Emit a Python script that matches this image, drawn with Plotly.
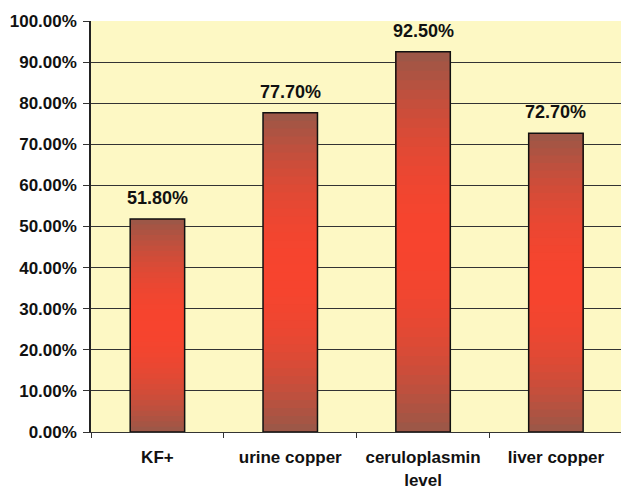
import plotly.graph_objects as go

categories = ["KF+", "urine copper", "ceruloplasmin<br>level", "liver copper"]
values = [51.8, 77.7, 92.5, 72.7]
labels = ["51.80%", "77.70%", "92.50%", "72.70%"]
tick_vals = [0, 10, 20, 30, 40, 50, 60, 70, 80, 90, 100]
tick_text = ["%.2f%%" % v for v in tick_vals]

N = 40
brown = (152, 88, 72)
red = (247, 68, 46)
FONT = "Liberation Sans, Arial"


def grad_color(t):
    d = abs(t - 0.5) * 2
    f = d ** 2.0
    c = [round(red[i] + (brown[i] - red[i]) * f) for i in range(3)]
    return "rgb(%d,%d,%d)" % tuple(c)


fig = go.Figure()
for k in range(N):
    # each layer spans from its start up to the bar top; later layers overlay
    fig.add_trace(go.Bar(
        x=categories,
        y=[v * (N - k) / N for v in values],
        base=[v * k / N for v in values],
        marker=dict(color=grad_color((k + 0.5) / N), line=dict(width=0)),
        width=0.41,
        hoverinfo="skip",
        showlegend=False,
    ))

fig.add_trace(go.Bar(
    x=categories,
    y=values,
    base=[0] * len(values),
    marker=dict(color="rgba(0,0,0,0)", line=dict(color="#111111", width=1.5)),
    width=0.41,
    hoverinfo="skip",
    showlegend=False,
))

for c, v, lab in zip(categories, values, labels):
    fig.add_annotation(
        x=c, y=v, text="<b>%s</b>" % lab, showarrow=False,
        yanchor="bottom", yshift=9,
        font=dict(family=FONT, size=18, color="#111111"),
    )

fig.update_layout(
    width=621,
    height=490,
    margin=dict(l=91, r=0, t=21, b=58),
    barmode="overlay",
    paper_bgcolor="white",
    plot_bgcolor="#fdf8c4",
    font=dict(family=FONT, size=17, color="#111111"),
    xaxis=dict(
        range=[-0.5, 3.49],
        automargin=False,
        showline=True, linecolor="#333333", linewidth=1,
        ticks="outside", tickson="boundaries", ticklen=5, tickcolor="#333333",
        showgrid=False,
        tickvals=categories,
        ticktext=["<b>%s</b>" % c for c in categories],
        tickfont=dict(family=FONT, size=17, color="#111111"),
        ticklabelstandoff=10,
    ),
    yaxis=dict(
        range=[0, 100],
        automargin=False,
        tickvals=tick_vals,
        ticktext=["<b>%s</b>" % t for t in tick_text],
        showline=True, linecolor="#222222", linewidth=1.5,
        ticks="outside", ticklen=6, tickcolor="#333333",
        showgrid=True, gridcolor="#333333", gridwidth=1.1,
        zeroline=False,
        tickfont=dict(family=FONT, size=17, color="#111111"),
        ticklabelstandoff=3,
    ),
)

fig.write_html(
    "out.html",
    config={"displayModeBar": False},
    post_script="document.body.style.margin='0';document.body.style.overflow='hidden';",
)
